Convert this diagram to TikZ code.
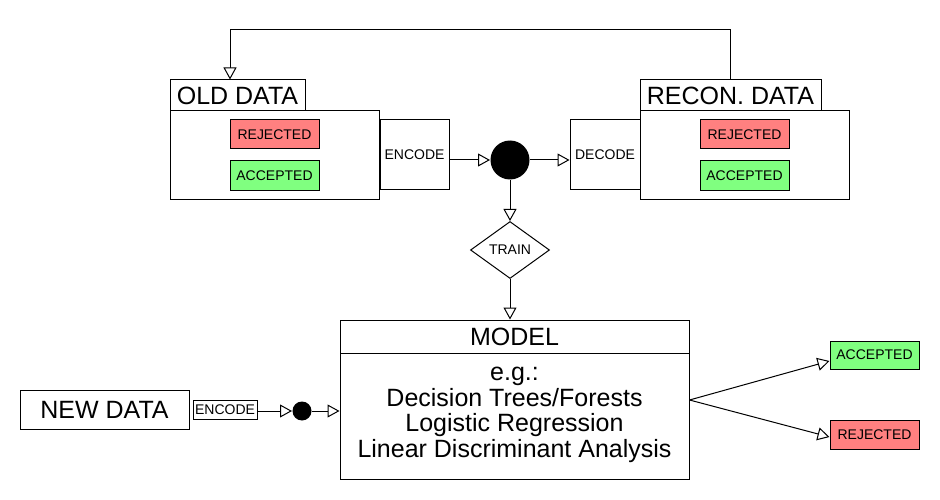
\documentclass[tikz,border=0pt]{standalone}
\usepackage{fontspec}
\setmainfont{Liberation Sans}
\usetikzlibrary{arrows.meta, shapes.geometric, positioning}
\definecolor{rejred}{HTML}{FF8080}
\definecolor{accgreen}{HTML}{80FF80}

\begin{document}
\begin{tikzpicture}[x=1pt,y=-1pt,line width=1pt,
      >={Triangle[length=12pt,width=13pt,fill=white]},
      box/.style={draw,rectangle,inner sep=0pt,fill=white},
      bigtext/.style={font=\fontsize{25}{25.7}\selectfont},
      smalltext/.style={font=\fontsize{14}{15}\selectfont},
      rej node/.style={box,smalltext,fill=rejred,minimum width=89pt,minimum height=29pt},
      acc node/.style={box,smalltext,fill=accgreen,minimum width=89pt,minimum height=29pt},
      hub node/.style={circle,fill=black,inner sep=0pt}]

      \useasboundingbox (0,0) rectangle (940,500);

      % old data
      \node[box,bigtext,minimum width=135pt,minimum height=31pt] (oldt) at (237.5,95.5) {OLD DATA};
      \node[box,minimum width=209pt,minimum height=88pt] (oldb) at (274.5,155) {};
      \node[rej node] (oldrej) at (274.5,134.5) {REJECTED};
      \node[acc node] (oldacc) [below=11pt of oldrej] {ACCEPTED};
      \node[box,smalltext,minimum width=69pt,minimum height=69pt] (enc) at (414.5,154.5) {ENCODE};
      \node[hub node,minimum size=39pt] (hub) at (510,160) {};

      % reconstructed data
      \node[box,smalltext,minimum width=70pt,minimum height=69pt] (dec) at (605,154.5) {DECODE};
      \node[box,bigtext,minimum width=181pt,minimum height=31pt] (recont) at (730.5,95.5) {RECON. DATA};
      \node[box,minimum width=209pt,minimum height=88pt] (reconb) at (744.5,155) {};
      \node[rej node] (reconrej) at (744.5,134.5) {REJECTED};
      \node[acc node] (reconacc) [below=11pt of reconrej] {ACCEPTED};

      \node[draw,diamond,smalltext,fill=white,inner sep=0pt,minimum width=79pt,minimum height=57pt] (train) at (510,250) {TRAIN};

      % model
      \node[box,bigtext,minimum width=349pt,minimum height=33pt] (modelt) at (514.5,336.5) {MODEL};
      \node[box,minimum width=349pt,minimum height=126pt] (modelb) at (514.5,416) {};
      \node[bigtext,align=center] (modeltext) at (514.5,415)
          {e.g.:\\Decision Trees/Forests\\Logistic Regression\\Linear Discriminant Analysis};
      \node[acc node,minimum height=28pt] (outacc) at (874.5,355) {ACCEPTED};
      \node[rej node] (outrej) at (874.5,434.5) {REJECTED};

      % new data
      \node[box,bigtext,minimum width=169pt,minimum height=39pt] (newd) at (104.5,409.5) {NEW DATA};
      \node[box,smalltext,minimum width=64pt,minimum height=19pt] (enc2) [right=3pt of newd] {ENCODE};
      \node[hub node,minimum size=19pt] (hub2) at (302,411) {};

      \draw[->] (enc.east |- hub) -- (hub);
      \draw[->] (hub) -- (hub -| dec.west);
      \draw[->] (hub) -- (train);
      \draw[->] (train) -- (train |- modelt.north);
      \draw[->] (recont.north) -- ++(0,-50) -| ([xshift=-7.5pt]oldt.north);
      \draw[->] (enc2.east |- hub2) -- (hub2);
      \draw[->] (hub2) -- (hub2 -| modelb.west);
      \foreach \t/\d in {outacc/-6, outrej/-2.5} {
          \draw[->] ([yshift=16pt]modelb.east) -- ([yshift=\d pt]\t.west);}
\end{tikzpicture}
\end{document}
